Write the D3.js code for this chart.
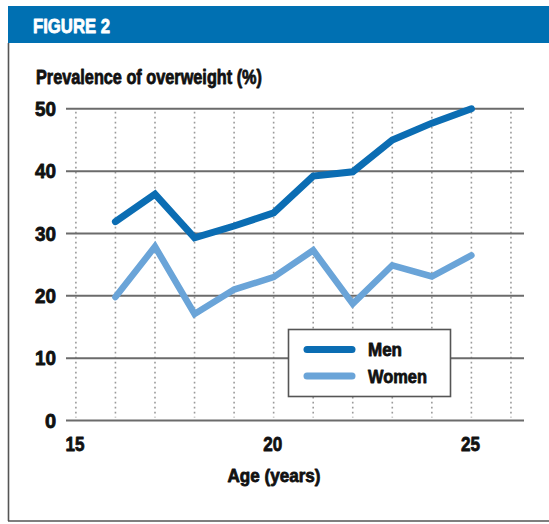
<!DOCTYPE html>
<html><head><meta charset="utf-8">
<script src="https://cdn.jsdelivr.net/npm/d3@7"></script>
<style>
html,body{margin:0;padding:0;background:#fff;}
text{font-family:"Liberation Sans",Arial,Helvetica,sans-serif;font-weight:bold;}
</style></head>
<body>
<svg id="c" width="549" height="524"></svg>
<script>
const ages = [16,17,18,19,20,21,22,23,24,25];
const men = [31.9,36.3,29.3,31.2,33.3,39.2,39.9,45.0,47.7,50.0];
const women = [19.8,27.9,17.1,21.0,23.0,27.3,18.7,24.9,23.1,26.5];
const yTicks = [0,10,20,30,40,50];
const xTickLabels = [15,20,25];
const xGridYears = [15,16,17,18,19,20,21,22,23,24,25,26];
const seriesNames = ["Men","Women"];
const seriesColors = ["#0b6db3","#6aa4d8"];

const svg = d3.select("#c");
const x = d3.scaleLinear().domain([14.75,26.33]).range([66,524]);
const y = d3.scaleLinear().domain([0,50]).range([420.5,108.8]);

function fitText(sel, w){
  sel.each(function(){ this.setAttribute("textLength", w); this.setAttribute("lengthAdjust","spacingAndGlyphs"); });
}
function heavy(sel, c){ sel.attr("stroke", c).attr("stroke-width",0.8).attr("stroke-linejoin","round"); }

// header band
svg.append("rect").attr("x",8).attr("y",6).attr("width",541).attr("height",37).attr("fill","#0070b2");
svg.append("text").attr("x",33).attr("y",33).attr("fill","#fff").attr("font-size",20).text("FIGURE 2").call(fitText,77).call(heavy,"#fff");
// frame
svg.append("line").attr("x1",8.5).attr("x2",8.5).attr("y1",43).attr("y2",521).attr("stroke","#555").attr("stroke-width",1.6);
svg.append("line").attr("x1",8).attr("x2",549).attr("y1",521).attr("y2",521).attr("stroke","#555").attr("stroke-width",1.6);

// title
svg.append("text").attr("x",36).attr("y",84).attr("fill","#111").attr("font-size",19.5).text("Prevalence of overweight (%)").call(fitText,226).call(heavy,"#111");

// vertical dotted grid
svg.append("g").selectAll("line").data(xGridYears).join("line")
  .attr("x1",d=>x(d)).attr("x2",d=>x(d)).attr("y1",y(50)+3).attr("y2",y(0)-3)
  .attr("stroke","#9a9a9a").attr("stroke-width",1.6).attr("stroke-dasharray","1.6,3.4");

// horizontal grid
svg.append("g").selectAll("line").data(yTicks).join("line")
  .attr("x1",x.range()[0]).attr("x2",x.range()[1]).attr("y1",d=>y(d)).attr("y2",d=>y(d))
  .attr("stroke","#6b6b6b").attr("stroke-width",2);

// y labels
svg.append("g").selectAll("text").data(yTicks).join("text")
  .attr("x",56).attr("y",d=>y(d)).attr("dy","0.36em").attr("text-anchor","end")
  .attr("font-size",20).attr("fill","#111").text(d=>d).call(heavy,"#111")
  .each(function(d){ if(String(d).length===2){ this.setAttribute("textLength",21); this.setAttribute("lengthAdjust","spacingAndGlyphs"); } });

// x labels
svg.append("g").selectAll("text").data(xTickLabels).join("text")
  .attr("x",d=>x(d)-1).attr("y",451).attr("text-anchor","middle")
  .attr("font-size",20).attr("fill","#111").text(d=>d).call(fitText,19).call(heavy,"#111");

svg.append("text").attr("x",274).attr("y",482).attr("text-anchor","middle").attr("font-size",19).attr("fill","#111")
  .text("Age (years)").call(fitText,93).call(heavy,"#111");

// lines
const line = d3.line().x(d=>x(d[0])).y(d=>y(d[1]));
svg.append("path").datum(ages.map((a,i)=>[a,women[i]])).attr("d",line)
  .attr("fill","none").attr("stroke",seriesColors[1]).attr("stroke-width",6.5).attr("stroke-linecap","round").attr("stroke-linejoin","miter");
svg.append("path").datum(ages.map((a,i)=>[a,men[i]])).attr("d",line)
  .attr("fill","none").attr("stroke",seriesColors[0]).attr("stroke-width",7).attr("stroke-linecap","round").attr("stroke-linejoin","miter");

// legend
const lg = svg.append("g");
lg.append("rect").attr("x",288.5).attr("y",329.5).attr("width",162).attr("height",67).attr("fill","#fff").attr("stroke","#555").attr("stroke-width",1.6);
const lw = [34,59];
seriesNames.forEach((n,i)=>{
  const cy = 349.5 + i*26.5;
  lg.append("line").attr("x1",307).attr("x2",352).attr("y1",cy).attr("y2",cy)
    .attr("stroke",seriesColors[i]).attr("stroke-width",7).attr("stroke-linecap","round");
  lg.append("text").attr("x",368).attr("y",cy).attr("dy","0.36em").attr("font-size",18.5).attr("fill","#111").text(n).call(fitText,lw[i]).call(heavy,"#111");
});
</script>
</body></html>
